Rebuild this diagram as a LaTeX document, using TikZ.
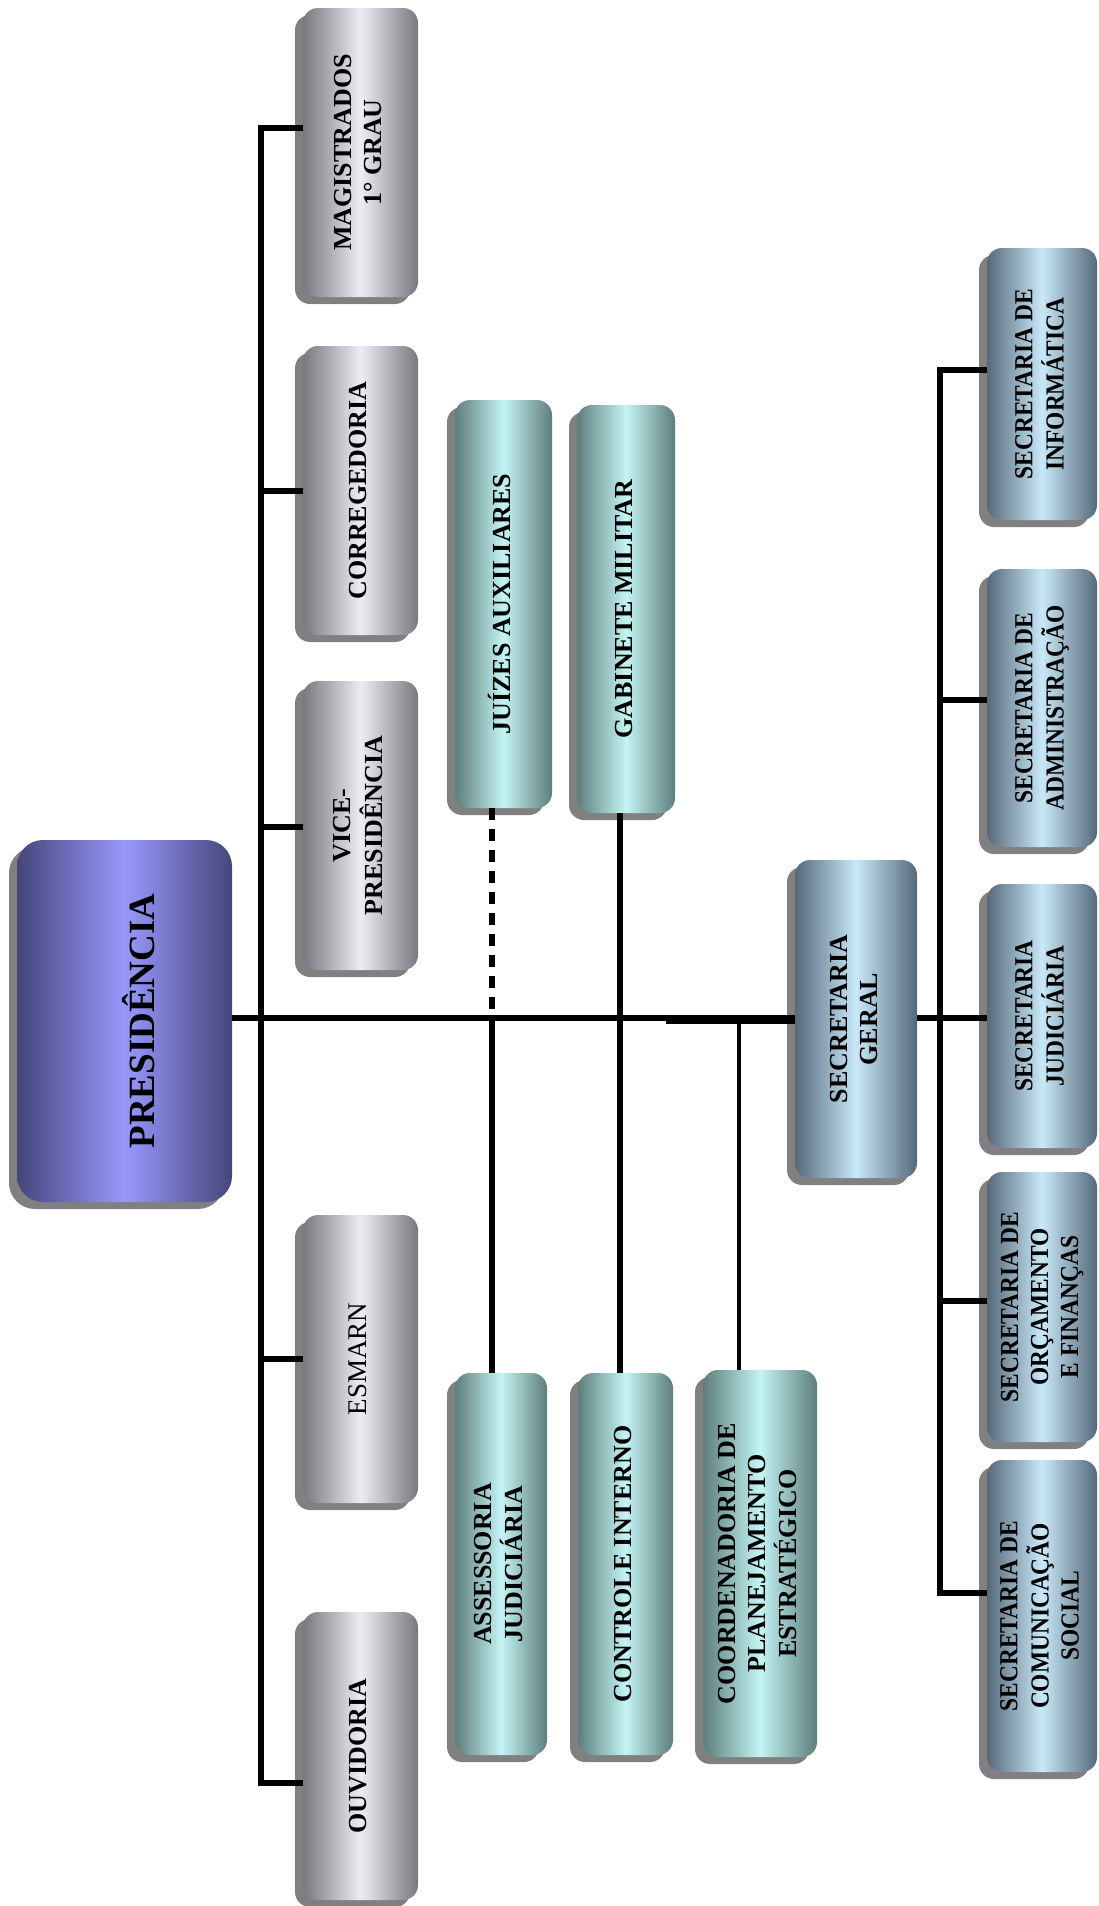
\documentclass[tikz,border=0pt]{standalone}
\usepackage{fontspec}
\setmainfont{Liberation Serif}
\usepackage{graphicx}
\usetikzlibrary{shadows}

\definecolor{gEdge}{HTML}{78787E}
\definecolor{gMid}{HTML}{ECECF2}
\definecolor{tEdge}{HTML}{5E7E7C}
\definecolor{tMid}{HTML}{C4F4F4}
\definecolor{bEdge}{HTML}{56697A}
\definecolor{bMid}{HTML}{C8E8F8}
\definecolor{pEdge}{HTML}{46467C}
\definecolor{pMid}{HTML}{9898FC}
\definecolor{shadowgray}{HTML}{808080}

\newcommand\rottext[1]{\rotatebox{90}{\begin{tabular}{@{}c@{}}#1\end{tabular}}}
\newcommand\rottextc[1]{\rotatebox{90}{\scalebox{0.9}[1]{\begin{tabular}{@{}c@{}}#1\end{tabular}}}}

\tikzset{
  orgbox/.style={anchor=north west, inner sep=0pt, outer sep=0pt,
    rounded corners=15pt,
    drop shadow={shadow xshift=-8pt, shadow yshift=-7pt, fill=shadowgray, opacity=1},
    font=\bfseries\fontsize{26}{30}\selectfont},
  graybox/.style={orgbox, left color=gEdge, right color=gEdge, middle color=gMid},
  tealbox/.style={orgbox, left color=tEdge, right color=tEdge, middle color=tMid},
  bluebox/.style={orgbox, left color=bEdge, right color=bEdge, middle color=bMid},
  purplebox/.style={orgbox, rounded corners=26pt, left color=pEdge, right color=pEdge, middle color=pMid,
    font=\bfseries\fontsize{37}{42}\selectfont},
  conn/.style={line width=6pt, black},
  conndash/.style={line width=6pt, black, dash pattern=on 12pt off 9pt},
}

\begin{document}
\begin{tikzpicture}[x=1pt,y=-1pt]
\fill[white] (0,0) rectangle (1098,1906);
\useasboundingbox (0,0) rectangle (1098,1906);

% boxes
\node[purplebox, minimum width=215pt, minimum height=362pt] (pres) at (17,840)
  {\hspace*{40pt}\rottext{PRESIDÊNCIA}};

\node[graybox, minimum width=115pt, minimum height=289pt] (mag) at (303,8)
  {\rottext{MAGISTRADOS\\1° GRAU}};
\node[graybox, minimum width=115pt, minimum height=289pt] (cor) at (303,346)
  {\rottext{CORREGEDORIA}};
\node[graybox, minimum width=115pt, minimum height=289pt] (vice) at (303,681)
  {\rottext{VICE-\\PRESIDÊNCIA}};
\node[graybox, minimum width=115pt, minimum height=288pt, font=\fontsize{27}{30}\selectfont] (esm) at (303,1215)
  {\rottext{ESMARN}};
\node[graybox, minimum width=115pt, minimum height=288pt] (ouv) at (303,1612)
  {\rottext{OUVIDORIA}};

\node[tealbox, minimum width=97pt, minimum height=408pt] (jui) at (455,400)
  {\rottext{JUÍZES AUXILIARES}};
\node[tealbox, minimum width=98pt, minimum height=408pt] (gab) at (577,405)
  {\rottext{GABINETE MILITAR}};
\node[tealbox, minimum width=92pt, minimum height=382pt] (asj) at (455,1373)
  {\rottext{ASSESSORIA\\JUDICIÁRIA}};
\node[tealbox, minimum width=95pt, minimum height=382pt] (cti) at (578,1373)
  {\rottext{CONTROLE INTERNO}};
\node[tealbox, minimum width=114pt, minimum height=387pt] (coo) at (703,1370)
  {\rottext{COORDENADORIA DE\\PLANEJAMENTO\\ESTRATÉGICO}};

\node[bluebox, minimum width=122pt, minimum height=318pt] (sg) at (795,860)
  {\rottext{SECRETARIA\\GERAL}};

\node[bluebox, minimum width=110pt, minimum height=272pt] (inf) at (987,248)
  {\rottextc{SECRETARIA DE\\INFORMÁTICA}};
\node[bluebox, minimum width=110pt, minimum height=278pt] (adm) at (987,569)
  {\rottextc{SECRETARIA DE\\ADMINISTRAÇÃO}};
\node[bluebox, minimum width=110pt, minimum height=264pt] (jud) at (987,884)
  {\rottextc{SECRETARIA\\JUDICIÁRIA}};
\node[bluebox, minimum width=110pt, minimum height=270pt] (orc) at (987,1172)
  {\rottextc{SECRETARIA DE\\ORÇAMENTO\\E FINANÇAS}};
\node[bluebox, minimum width=110pt, minimum height=312pt] (com) at (987,1460)
  {\rottextc{SECRETARIA DE\\COMUNICAÇÃO\\SOCIAL}};

% bus coordinates
\coordinate (busL) at (261,0);
\coordinate (busR) at (940,0);
\coordinate (thick) at (666,1020);

% left bus
\draw[conn] (mag.west |- 0,128) -- (busL |- 0,128) -- (busL |- 0,1783) -- (ouv.west |- 0,1783);
\draw[conn] (cor.west |- 0,491) -- (busL |- 0,491);
\draw[conn] (vice.west |- 0,827) -- (busL |- 0,827);
\draw[conn] (esm.west |- 0,1359) -- (busL |- 0,1359);

% main line
\draw[conn] (pres.east |- 0,1018) -- (sg.west |- 0,1018);
\draw[line width=7pt] (thick) -- (sg.west |- thick);

% staff units
\draw[conndash] (492,0 |- jui.south) -- (492,1018);
\draw[conn] (492,1018) -- (492,0 |- asj.north);
\draw[conn] (620,0 |- gab.south) -- (620,0 |- cti.north);
\draw[line width=4.5pt] (739,1018) -- (739,0 |- coo.north);

% right bus
\draw[conn] (sg.east |- 0,1018) -- (jud.west |- 0,1018);
\draw[conn] (inf.west |- 0,370) -- (busR |- 0,370) -- (busR |- 0,1593) -- (com.west |- 0,1593);
\draw[conn] (adm.west |- 0,700) -- (busR |- 0,700);
\draw[conn] (orc.west |- 0,1301) -- (busR |- 0,1301);
\end{tikzpicture}
\end{document}
